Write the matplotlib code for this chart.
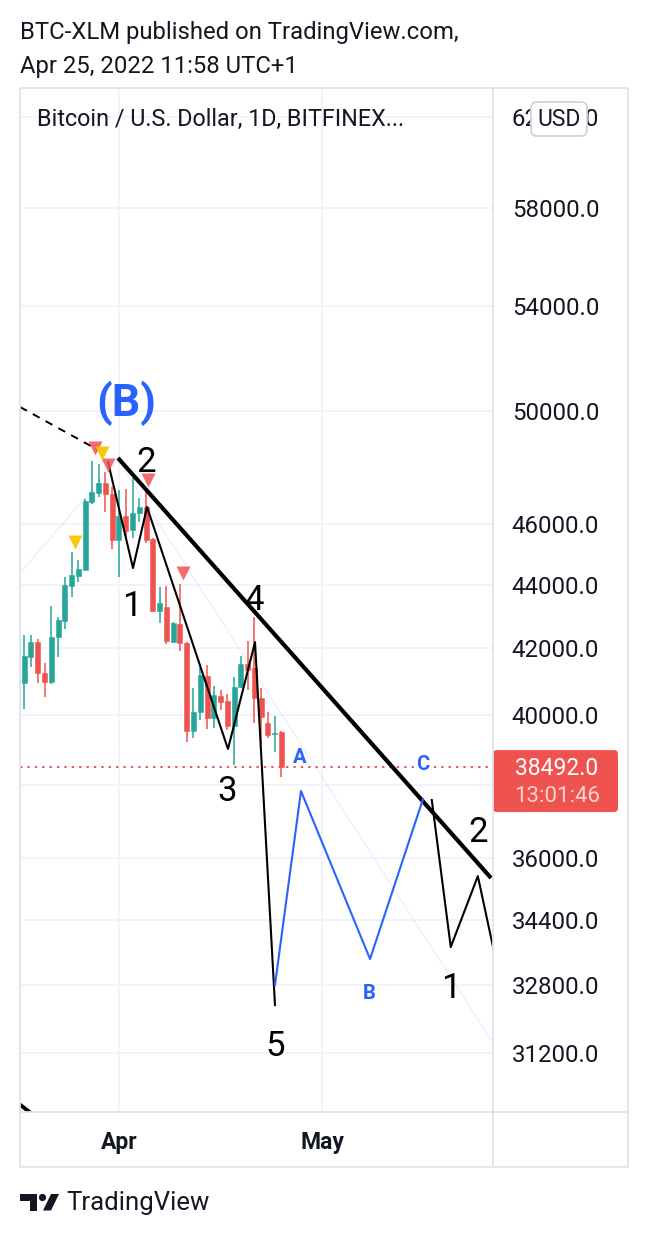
import numpy as np
import pandas as pd
import matplotlib
matplotlib.use("Agg")
import matplotlib.pyplot as plt
from matplotlib.patches import FancyBboxPatch, Rectangle, Polygon, Circle
from matplotlib.ticker import FixedLocator, FuncFormatter, NullLocator

plt.rcParams['font.family'] = ['Roboto', 'DejaVu Sans']

# ---------------- data ----------------
dates = pd.date_range('2022-03-17', '2022-04-25').strftime('%Y-%m-%d').tolist()
opens = [41100, 40941, 41726, 42188, 41240, 40971, 42345, 42846, 43958, 44281,
         44478, 46753, 47064, 47411, 47030, 45467, 46275, 45802, 46379, 46583,
         45501, 43161, 43288, 42188, 42750, 42157, 39523, 40078, 41152, 39901,
         40551, 40401, 39666, 40820, 41514, 41391, 40490, 39755, 39435, 39494]
highs = [41350, 42408, 42408, 42284, 41545, 43319, 42973, 44251, 45067, 44806,
         46856, 48181, 48077, 47792, 47268, 47168, 47203, 47584, 46891, 47237,
         45550, 43927, 43958, 42815, 44023, 42200, 40790, 41420, 41483, 40848,
         40729, 40609, 41121, 41757, 42218, 42973, 40790, 40078, 39959, 39520]
lows = [40700, 40165, 41420, 40941, 40521, 40909, 41726, 42592, 43604, 44089,
        44478, 46687, 46926, 46410, 45167, 44251, 45467, 45532, 46071, 45367,
        43130, 42781, 42126, 42157, 41910, 39204, 39319, 39843, 39581, 39609,
        40136, 39551, 38548, 40790, 40729, 39755, 39147, 39319, 38919, 38211]
closes = [40950, 41757, 42188, 41240, 40971, 42345, 42876, 43989, 44316, 44512,
          46787, 47099, 47411, 47030, 45467, 46275, 45767, 46379, 46583, 45467,
          43161, 43415, 42218, 42781, 42157, 39523, 40078, 41179, 39901, 40579,
          40370, 39666, 40820, 41514, 41332, 40490, 39932, 39407, 39465, 38492]

price_ticks = [31200, 32800, 34400, 36000, 38000, 40000, 42000, 44000, 46000,
               50000, 54000, 58000, 62000]
hidden_tick = 38000  # its label sits under the last-price tag
month_ticks = ['2022-04-01', '2022-05-01']
month_labels = ['Apr', 'May']

# drawings (x = days since 2022-04-01, y = price)
wave_x = [-1.62, 2.07, 4.14, 16.1, 20.09, 23.04]
wave_y = [48145, 44543, 46583, 39004, 42188, 32326]
abc_x = [23.04, 26.88, 37.08, 44.9]
abc_y = [32803, 37821, 33435, 37599]
wave2_x = [46.2, 49.0, 53.0, 56.3]
wave2_y = [37572, 33731, 35532, 32922]
trend_x = [-0.15, 54.95]
trend_y = [48289, 35483]
dash_x = [-14.62, -2.8]
dash_y = [50130, 48535]
low_seg_x = [-15.0, -11.5]
low_seg_y = [30090, 29690]
faint_x = [-14.62, -0.15, 55.24]
faint_y = [44383, 48216, 31437]
red_mark_x = [-3.55, -1.62, 4.28, 9.45]
red_mark_y = [48644, 48038, 47514, 44383]
yel_mark_x = [-2.5, -6.5]
yel_mark_y = [48466, 45401]

wave_labels = ['(B)', '2', '1', '3', '4', '5', '1', '2']
wave_lab_x = [1.03, 3.99, 1.92, 15.95, 19.94, 23.04, 49.04, 53.03]
wave_lab_y = [50278, 48145, 43288, 37821, 43508, 31367, 32730, 36699]
abc_labels = ['A', 'B', 'C']
abc_lab_x = [26.74, 36.93, 44.9]
abc_lab_y = [38776, 32610, 38577]

GREEN = '#26a69a'
RED = '#ef5350'
BLUE = '#2962ff'
TXT = '#131722'
GRID = '#f0f3fa'
BORDER = '#e0e3eb'

W, H = 648, 1238
fig = plt.figure(figsize=(W / 100, H / 100), dpi=100)
fig.patch.set_facecolor('white')

L, R, T, B = 20, 493, 88, 1112
ax = fig.add_axes([L / W, (H - B) / H, (R - L) / W, (B - T) / H])
ax.set_yscale('log')
ax.set_xlim(-14.62, 55.24)
ax.set_ylim(29886, 63347)
for s in ax.spines.values():
    s.set_visible(False)

base = pd.Timestamp('2022-04-01')
x = (pd.to_datetime(dates) - base).days.values.astype(float)
o = np.array(opens, float); h = np.array(highs, float)
lo = np.array(lows, float); c = np.array(closes, float)
cols = np.where(c >= o, GREEN, RED)

# grid / ticks
ax.yaxis.set_major_locator(FixedLocator(price_ticks))
ax.yaxis.set_minor_locator(NullLocator())
ax.yaxis.set_major_formatter(
    FuncFormatter(lambda v, p: '' if abs(v - hidden_tick) < 1 else f'{v:.1f}'))
mt = (pd.to_datetime(month_ticks) - base).days.values.astype(float)
ax.xaxis.set_major_locator(FixedLocator(mt))
ax.xaxis.set_minor_locator(NullLocator())
ax.set_xticklabels(month_labels)
ax.grid(True, color=GRID, lw=1.3, zorder=0)
ax.set_axisbelow(True)
ax.yaxis.tick_right()
ax.tick_params(axis='y', length=0, pad=13.5, labelsize=17.3, labelcolor=TXT)
ax.tick_params(axis='x', length=0, pad=14, labelsize=16.5, labelcolor=TXT)
for t in ax.get_xticklabels():
    t.set_fontweight('bold')

# faint lines
ax.plot(faint_x, faint_y, color=BLUE, alpha=0.08, lw=1.2, zorder=1)

# candles
ax.vlines(x, lo, h, colors=cols, lw=1.1, zorder=2)
ax.bar(x, np.abs(c - o), bottom=np.minimum(o, c), width=0.74, color=cols,
       edgecolor=cols, linewidth=0.4, zorder=3)

# last price line
ax.axhline(c[-1], color=RED, ls=(0, (1.2, 2.6)), lw=1.4, zorder=2)

# drawings
ax.plot(dash_x, dash_y, color='black', lw=1.4, ls=(0, (4, 3.5)), zorder=4)
ax.plot(low_seg_x, low_seg_y, color='black', lw=2.8, zorder=4, solid_capstyle='butt')
ax.plot(trend_x, trend_y, color='black', lw=3.0, zorder=5, solid_capstyle='butt')
ax.plot(wave_x, wave_y, color='black', lw=1.5, zorder=5)
ax.plot(wave2_x, wave2_y, color='black', lw=1.5, zorder=5)
ax.plot(abc_x, abc_y, color=BLUE, lw=1.5, zorder=5)

ax.plot(red_mark_x, red_mark_y, ls='none', marker='v', ms=10, color=RED,
        alpha=0.85, mec='none', zorder=6)
ax.plot(yel_mark_x, yel_mark_y, ls='none', marker='v', ms=10, color='#f9c80e',
        mec='none', zorder=6)

for s, xx, yy in zip(wave_labels, wave_lab_x, wave_lab_y):
    if s == '(B)':
        ax.text(xx, yy, s, ha='center', va='center', fontsize=32,
                fontweight='bold', color=BLUE, zorder=7)
    else:
        ax.text(xx, yy, s, ha='center', va='center', fontsize=25,
                color='black', zorder=7)
for s, xx, yy in zip(abc_labels, abc_lab_x, abc_lab_y):
    ax.text(xx, yy, s, ha='center', va='center', fontsize=14.5,
            fontweight='bold', color=BLUE, zorder=7)

# ---------------- overlay (pixel coordinates) ----------------
ov = fig.add_axes([0, 0, 1, 1], zorder=10)
ov.set_xlim(0, W)
ov.set_ylim(H, 0)
ov.axis('off')
ov.patch.set_visible(False)

ov.add_patch(Rectangle((20, 88), 608, 1079, fill=False, ec=BORDER, lw=1.3))
ov.plot([493, 493], [88, 1167], color=BORDER, lw=1.3)
ov.plot([20, 628], [1112, 1112], color=BORDER, lw=1.3)

fig.text(20 / W, 1 - 32 / H, 'BTC-XLM published on TradingView.com,',
         fontsize=17.2, color=TXT, va='center', ha='left')
fig.text(20 / W, 1 - 66 / H, 'Apr 25, 2022 11:58 UTC+1',
         fontsize=17.2, color=TXT, va='center', ha='left')
ov.text(37, 119, 'Bitcoin / U.S. Dollar, 1D, BITFINEX...', fontsize=16.8,
        color=TXT, va='center', ha='left')

# USD box
ov.add_patch(FancyBboxPatch((531, 102), 56, 34, boxstyle='round,pad=0,rounding_size=6',
                            fc='white', ec='#d1d4dc', lw=1.3))
ov.text(559, 119.5, 'USD', fontsize=16.5, color=TXT, ha='center', va='center')

# price tag
fig.canvas.draw()
ypix = H - ax.transData.transform((0, c[-1]))[1]
ov.add_patch(FancyBboxPatch((493, ypix - 17), 125, 62, boxstyle='round,pad=0,rounding_size=4',
                            fc=RED, ec='none'))
ov.text(557, ypix + 1, f'{c[-1]:.1f}', fontsize=16.5, color='white',
        ha='center', va='center')
ov.text(557, ypix + 29.5, '13:01:46', fontsize=16, color='white', alpha=0.75,
        ha='center', va='center')

# footer logo
ov.add_patch(Rectangle((20, 1194), 17, 6.5, fc=TXT, ec='none'))
ov.add_patch(Rectangle((29.5, 1194), 7.5, 16.5, fc=TXT, ec='none'))
ov.add_patch(Circle((42.5, 1197.5), 3.6, fc=TXT, ec='none'))
ov.add_patch(Polygon([(43, 1210.5), (51, 1194), (59, 1194), (51, 1210.5)],
                     closed=True, fc=TXT, ec='none'))
ov.text(66, 1203, 'TradingView', fontsize=18.5, color=TXT, ha='left', va='center')

fig.savefig('out.png', dpi=100, facecolor='white')
